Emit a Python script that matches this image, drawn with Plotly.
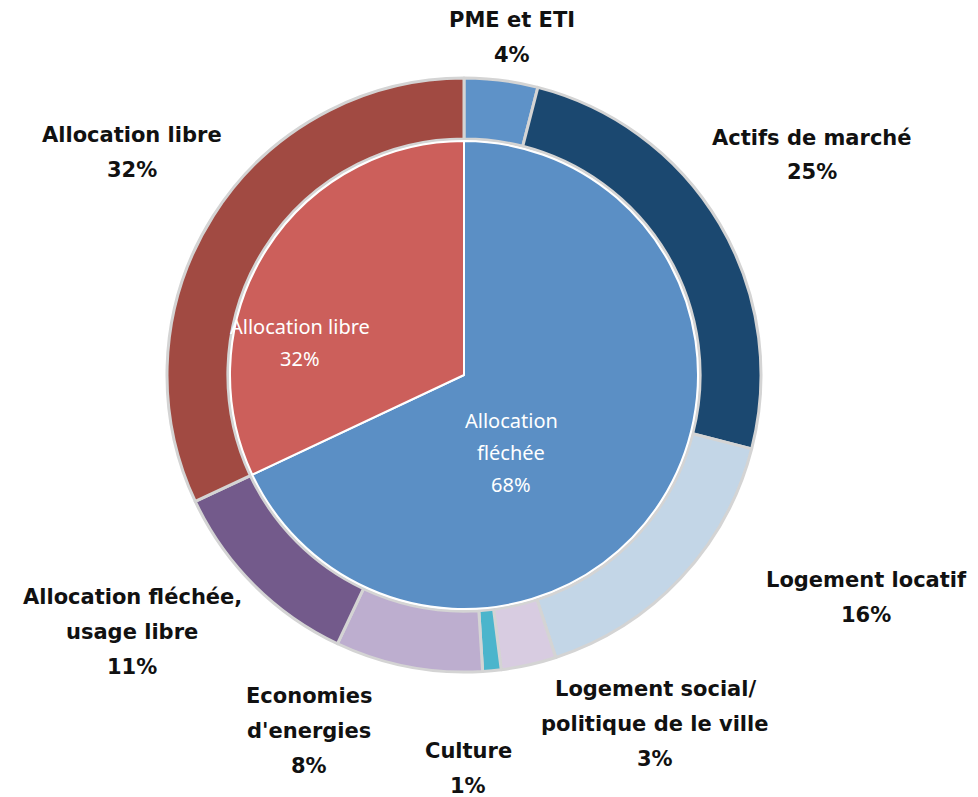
import plotly.graph_objects as go

W, H = 978, 797
OFF = 8  # page body margin

# inner pie
inner_labels = ["Allocation fléchée", "Allocation libre"]
inner_values = [68, 32]
inner_colors = ["#5b8fc5", "#cc5f5b"]

# outer ring
outer_labels = [
    "PME et ETI",
    "Actifs de marché",
    "Logement locatif",
    "Logement social/\npolitique de le ville",
    "Culture",
    "Economies\nd'energies",
    "Allocation fléchée,\nusage libre",
    "Allocation libre",
]
outer_values = [4, 25, 16, 3, 1, 8, 11, 32]
outer_colors = ["#5e92c8", "#1b4870", "#c3d6e7", "#d8cce1", "#4bb5cc",
                "#bdaecf", "#735a8b", "#a14a42"]

# label anchor points in pixels (center of text block)
outer_label_pos = [(512, 38), (812, 155), (866, 597), (655, 724),
                   (468, 768), (309, 731), (132, 632), (132, 152)]
inner_label_pos = [(511, 452), (300, 342)]

CX, CY = 464, 375
R_OUT, R_IN = 297, 234


def px_x(x):
    return (x - OFF) / W


def px_y(y):
    return 1 - (y - OFF) / H


def dom(r):
    return dict(x=[px_x(CX - r), px_x(CX + r)], y=[px_y(CY + r), px_y(CY - r)])


fig = go.Figure()
fig.add_trace(go.Pie(
    labels=outer_labels, values=outer_values, sort=False, direction="clockwise",
    hole=0.795, domain=dom(R_OUT), textinfo="none", hoverinfo="label+percent",
    marker=dict(colors=outer_colors, line=dict(color="#d4d4d4", width=3)),
    showlegend=False,
))
fig.add_trace(go.Pie(
    labels=inner_labels, values=inner_values, sort=False, direction="clockwise",
    domain=dom(R_IN), textinfo="none", hoverinfo="label+percent",
    marker=dict(colors=inner_colors, line=dict(color="white", width=2)),
    showlegend=False,
))


def add_block(lines, pos, font, spacing):
    x, y = pos
    top = y - spacing * (len(lines) - 1) / 2
    for i, line in enumerate(lines):
        fig.add_annotation(
            x=px_x(x), y=px_y(top + i * spacing), xref="paper", yref="paper",
            text=line, showarrow=False, xanchor="center", yanchor="middle", font=font,
        )


outer_font = dict(family="DejaVu Sans", size=21, color="#111111", weight="bold")
for lab, val, pos in zip(outer_labels, outer_values, outer_label_pos):
    add_block(lab.split("\n") + [f"{val}%"], pos, outer_font, 35)

inner_font = dict(family="Noto Sans", size=20, color="white")
inner_text = [["Allocation", "fléchée"], ["Allocation libre"]]
for lines, val, pos in zip(inner_text, inner_values, inner_label_pos):
    add_block(lines + [f"{val}%"], pos, inner_font, 32)

fig.update_layout(
    width=W, height=H, margin=dict(l=0, r=0, t=0, b=0),
    paper_bgcolor="white", plot_bgcolor="white",
)
fig.write_html("out.html")
